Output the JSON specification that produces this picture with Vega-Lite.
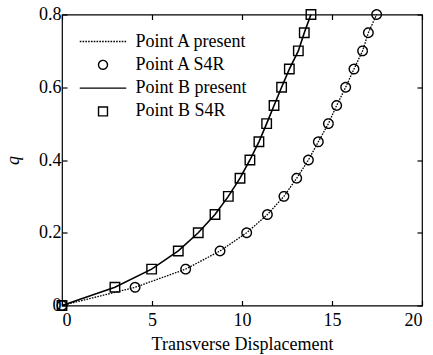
{
  "$schema": "https://vega.github.io/schema/vega-lite/v6.json",
  "width": 360,
  "height": 291,
  "autosize": "none",
  "padding": {"left": 62, "top": 14.5, "right": 11, "bottom": 49.5},
  "background": "white",
  "config": {
    "view": {"stroke": "black", "strokeWidth": 1.2},
    "font": "Liberation Serif",
    "axis": {
      "labelFont": "Liberation Serif",
      "labelFontSize": 18,
      "labelColor": "black",
      "titleFont": "Liberation Serif",
      "titleFontSize": 18,
      "titleFontWeight": "normal",
      "titleColor": "black",
      "tickColor": "black",
      "tickSize": -5,
      "tickWidth": 1.2,
      "domain": false,
      "grid": false
    }
  },
  "data": {
    "values": [
      {"series": "Point A S4R", "x": 0, "q": 0},
      {"series": "Point A S4R", "x": 4.06, "q": 0.05},
      {"series": "Point A S4R", "x": 6.87, "q": 0.1},
      {"series": "Point A S4R", "x": 8.78, "q": 0.15},
      {"series": "Point A S4R", "x": 10.26, "q": 0.2},
      {"series": "Point A S4R", "x": 11.41, "q": 0.25},
      {"series": "Point A S4R", "x": 12.33, "q": 0.3},
      {"series": "Point A S4R", "x": 13.04, "q": 0.35},
      {"series": "Point A S4R", "x": 13.69, "q": 0.4},
      {"series": "Point A S4R", "x": 14.24, "q": 0.45},
      {"series": "Point A S4R", "x": 14.8, "q": 0.5},
      {"series": "Point A S4R", "x": 15.26, "q": 0.55},
      {"series": "Point A S4R", "x": 15.76, "q": 0.6},
      {"series": "Point A S4R", "x": 16.22, "q": 0.65},
      {"series": "Point A S4R", "x": 16.7, "q": 0.7},
      {"series": "Point A S4R", "x": 17.02, "q": 0.75},
      {"series": "Point A S4R", "x": 17.48, "q": 0.8},
      {"series": "Point B S4R", "x": 0, "q": 0},
      {"series": "Point B S4R", "x": 2.94, "q": 0.05},
      {"series": "Point B S4R", "x": 4.98, "q": 0.1},
      {"series": "Point B S4R", "x": 6.46, "q": 0.15},
      {"series": "Point B S4R", "x": 7.57, "q": 0.2},
      {"series": "Point B S4R", "x": 8.5, "q": 0.25},
      {"series": "Point B S4R", "x": 9.24, "q": 0.3},
      {"series": "Point B S4R", "x": 9.89, "q": 0.35},
      {"series": "Point B S4R", "x": 10.44, "q": 0.4},
      {"series": "Point B S4R", "x": 10.94, "q": 0.45},
      {"series": "Point B S4R", "x": 11.37, "q": 0.5},
      {"series": "Point B S4R", "x": 11.78, "q": 0.55},
      {"series": "Point B S4R", "x": 12.2, "q": 0.6},
      {"series": "Point B S4R", "x": 12.63, "q": 0.65},
      {"series": "Point B S4R", "x": 13.13, "q": 0.7},
      {"series": "Point B S4R", "x": 13.46, "q": 0.75},
      {"series": "Point B S4R", "x": 13.83, "q": 0.8}
    ]
  },
  "resolve": {"axis": {"x": "independent", "y": "independent"}},
  "layer": [
    {
      "transform": [{"filter": "datum.series == 'Point A S4R'"}],
      "mark": {"type": "line", "color": "black", "strokeWidth": 1.3, "strokeDash": [1.6, 1.2]},
      "encoding": {
        "x": {"field": "x", "type": "quantitative", "scale": {"domain": [0, 20], "nice": false},
          "axis": {"orient": "bottom", "values": [0, 5, 10, 15, 20], "title": "Transverse Displacement", "labelPadding": 11, "titlePadding": 6}},
        "y": {"field": "q", "type": "quantitative", "scale": {"domain": [0, 0.8], "nice": false, "zero": false},
          "axis": {"orient": "left", "values": [0, 0.2, 0.4, 0.6, 0.8], "format": ".1~f", "title": "q", "titleFontStyle": "italic", "labelPadding": 6, "titlePadding": 16}}
      }
    },
    {
      "transform": [{"filter": "datum.series == 'Point B S4R'"}],
      "mark": {"type": "line", "color": "black", "strokeWidth": 1.6},
      "encoding": {
        "x": {"field": "x", "type": "quantitative", "axis": null},
        "y": {"field": "q", "type": "quantitative", "axis": null}
      }
    },
    {
      "mark": {"type": "point", "filled": false, "color": "black", "strokeWidth": 1.4, "size": 90, "opacity": 1},
      "encoding": {
        "x": {"field": "x", "type": "quantitative",
          "axis": {"orient": "top", "values": [0, 5, 10, 15, 20], "labels": false, "title": null}},
        "y": {"field": "q", "type": "quantitative",
          "axis": {"orient": "right", "values": [0, 0.2, 0.4, 0.6, 0.8], "labels": false, "title": null}},
        "shape": {
          "field": "series", "type": "nominal",
          "scale": {"domain": ["Point A present", "Point A S4R", "Point B present", "Point B S4R"],
            "range": ["M-5.2,0H5.2", "circle", "M-5.2,0H5.2", "square"]},
          "legend": {"title": null, "orient": "none", "legendX": 32, "legendY": 18, "symbolSize": 80,
            "symbolStrokeColor": "black", "symbolStrokeWidth": 1.4, "symbolFillColor": "transparent",
            "labelFont": "Liberation Serif", "labelFontSize": 18, "labelColor": "black", "labelOffset": 23.5, "rowPadding": 5.3}
        },
        "strokeDash": {
          "field": "series", "type": "nominal",
          "scale": {"domain": ["Point A present", "Point A S4R", "Point B present", "Point B S4R"],
            "range": [[1.6, 1.2], [1, 0], [1, 0], [1, 0]]},
          "legend": {"title": null, "orient": "none", "legendX": 32, "legendY": 18, "symbolSize": 80,
            "symbolStrokeColor": "black", "symbolStrokeWidth": 1.4, "symbolFillColor": "transparent",
            "labelFont": "Liberation Serif", "labelFontSize": 18, "labelColor": "black", "labelOffset": 23.5, "rowPadding": 5.3}
        }
      }
    }
  ]
}
